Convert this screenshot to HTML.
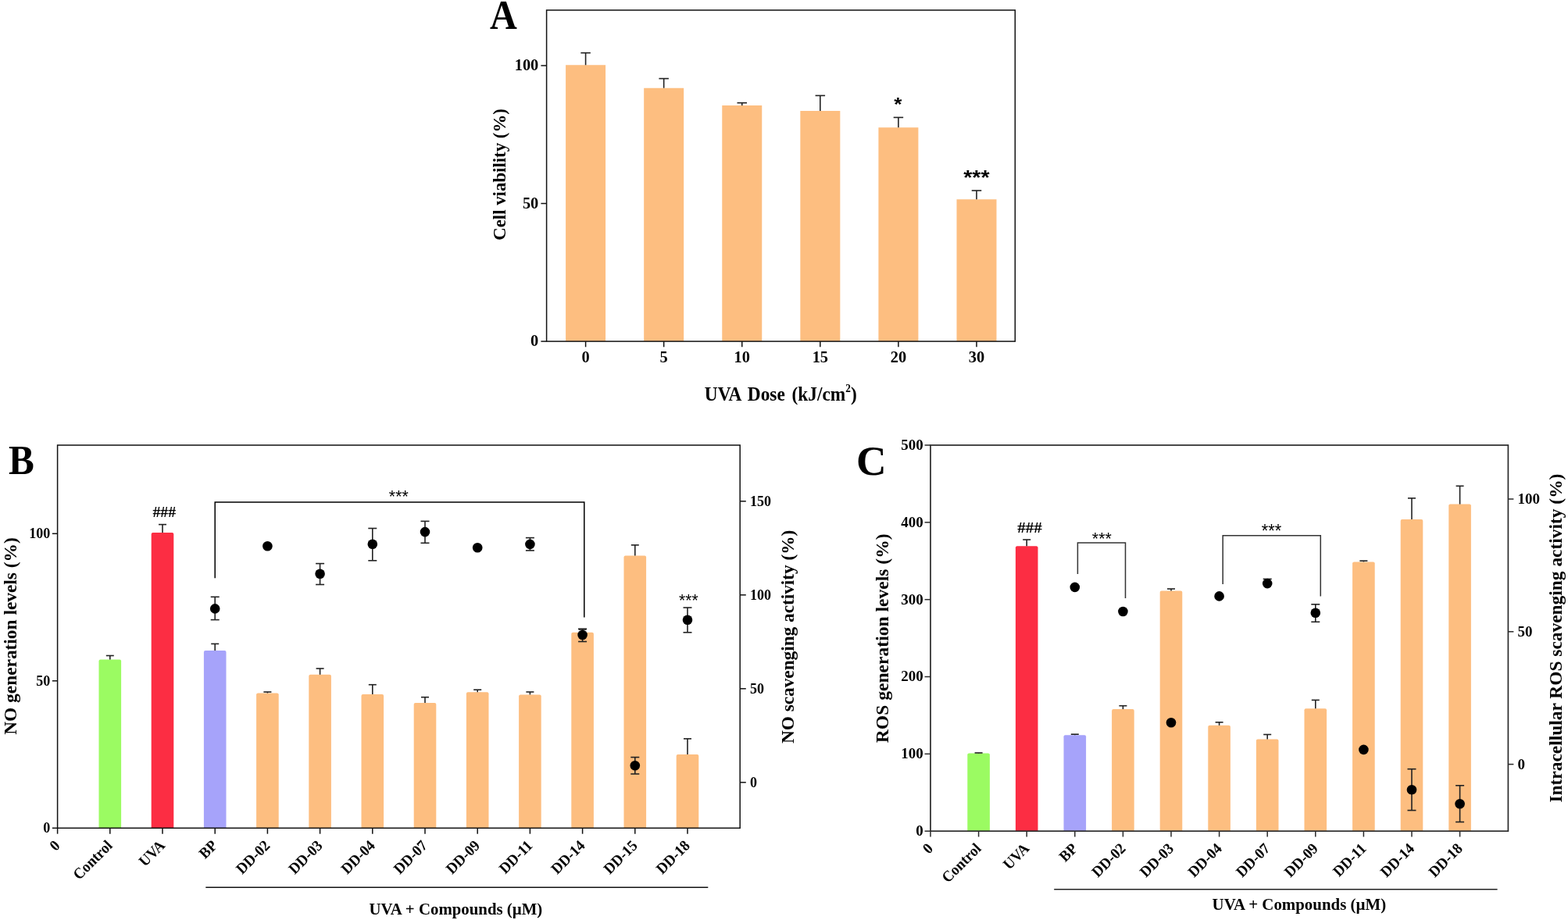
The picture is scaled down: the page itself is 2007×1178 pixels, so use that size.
<!DOCTYPE html>
<html><head><meta charset="utf-8"><title>Figure</title>
<style>
html,body{margin:0;padding:0;background:#fff;}
svg{display:block;}
text{fill:#000;}
</style></head>
<body>
<svg width="2007" height="1178" viewBox="0 0 2007 1178">
<rect x="0" y="0" width="2007" height="1178" fill="#fff"/>
<path d="M724.10 437.10V83.30Q724.10 83.30 724.10 83.30H775.10Q775.10 83.30 775.10 83.30V437.10Z" fill="#FDBE80"/>
<line x1="749.60" y1="83.30" x2="749.60" y2="67.70" stroke="#222" stroke-width="1.6"/>
<line x1="743.35" y1="67.70" x2="755.85" y2="67.70" stroke="#222" stroke-width="1.6"/>
<path d="M824.18 437.10V112.70Q824.18 112.70 824.18 112.70H875.18Q875.18 112.70 875.18 112.70V437.10Z" fill="#FDBE80"/>
<line x1="849.68" y1="112.70" x2="849.68" y2="100.60" stroke="#222" stroke-width="1.6"/>
<line x1="843.43" y1="100.60" x2="855.93" y2="100.60" stroke="#222" stroke-width="1.6"/>
<path d="M924.26 437.10V135.10Q924.26 135.10 924.26 135.10H975.26Q975.26 135.10 975.26 135.10V437.10Z" fill="#FDBE80"/>
<line x1="949.76" y1="135.10" x2="949.76" y2="131.70" stroke="#222" stroke-width="1.6"/>
<line x1="943.51" y1="131.70" x2="956.01" y2="131.70" stroke="#222" stroke-width="1.6"/>
<path d="M1024.34 437.10V141.90Q1024.34 141.90 1024.34 141.90H1075.34Q1075.34 141.90 1075.34 141.90V437.10Z" fill="#FDBE80"/>
<line x1="1049.84" y1="141.90" x2="1049.84" y2="122.40" stroke="#222" stroke-width="1.6"/>
<line x1="1043.59" y1="122.40" x2="1056.09" y2="122.40" stroke="#222" stroke-width="1.6"/>
<path d="M1124.42 437.10V163.30Q1124.42 163.30 1124.42 163.30H1175.42Q1175.42 163.30 1175.42 163.30V437.10Z" fill="#FDBE80"/>
<line x1="1149.92" y1="163.30" x2="1149.92" y2="150.40" stroke="#222" stroke-width="1.6"/>
<line x1="1143.67" y1="150.40" x2="1156.17" y2="150.40" stroke="#222" stroke-width="1.6"/>
<path d="M1224.50 437.10V255.30Q1224.50 255.30 1224.50 255.30H1275.50Q1275.50 255.30 1275.50 255.30V437.10Z" fill="#FDBE80"/>
<line x1="1250.00" y1="255.30" x2="1250.00" y2="244.00" stroke="#222" stroke-width="1.6"/>
<line x1="1243.75" y1="244.00" x2="1256.25" y2="244.00" stroke="#222" stroke-width="1.6"/>
<rect x="699.6" y="13.0" width="599.70" height="424.10" fill="none" stroke="#111" stroke-width="1.5"/>
<line x1="692.40" y1="437.10" x2="699.60" y2="437.10" stroke="#111" stroke-width="1.5"/>
<line x1="692.40" y1="260.55" x2="699.60" y2="260.55" stroke="#111" stroke-width="1.5"/>
<line x1="692.40" y1="84.00" x2="699.60" y2="84.00" stroke="#111" stroke-width="1.5"/>
<line x1="749.60" y1="437.10" x2="749.60" y2="444.30" stroke="#111" stroke-width="1.5"/>
<line x1="849.68" y1="437.10" x2="849.68" y2="444.30" stroke="#111" stroke-width="1.5"/>
<line x1="949.76" y1="437.10" x2="949.76" y2="444.30" stroke="#111" stroke-width="1.5"/>
<line x1="1049.84" y1="437.10" x2="1049.84" y2="444.30" stroke="#111" stroke-width="1.5"/>
<line x1="1149.92" y1="437.10" x2="1149.92" y2="444.30" stroke="#111" stroke-width="1.5"/>
<line x1="1250.00" y1="437.10" x2="1250.00" y2="444.30" stroke="#111" stroke-width="1.5"/>
<path d="M126.50 1060.30V846.60Q126.50 844.60 128.50 844.60H153.10Q155.10 844.60 155.10 846.60V1060.30Z" fill="#9BFB62"/>
<line x1="140.80" y1="844.60" x2="140.80" y2="839.50" stroke="#222" stroke-width="1.6"/>
<line x1="135.80" y1="839.50" x2="145.80" y2="839.50" stroke="#222" stroke-width="1.6"/>
<path d="M193.70 1060.30V684.00Q193.70 682.00 195.70 682.00H220.30Q222.30 682.00 222.30 684.00V1060.30Z" fill="#FC2D43"/>
<line x1="208.00" y1="682.00" x2="208.00" y2="671.60" stroke="#222" stroke-width="1.6"/>
<line x1="203.00" y1="671.60" x2="213.00" y2="671.60" stroke="#222" stroke-width="1.6"/>
<path d="M260.90 1060.30V835.00Q260.90 833.00 262.90 833.00H287.50Q289.50 833.00 289.50 835.00V1060.30Z" fill="#A6A3FA"/>
<line x1="275.20" y1="833.00" x2="275.20" y2="824.40" stroke="#222" stroke-width="1.6"/>
<line x1="270.20" y1="824.40" x2="280.20" y2="824.40" stroke="#222" stroke-width="1.6"/>
<path d="M328.10 1060.30V889.50Q328.10 887.50 330.10 887.50H354.70Q356.70 887.50 356.70 889.50V1060.30Z" fill="#FDBE80"/>
<line x1="342.40" y1="887.50" x2="342.40" y2="886.00" stroke="#222" stroke-width="1.6"/>
<line x1="337.40" y1="886.00" x2="347.40" y2="886.00" stroke="#222" stroke-width="1.6"/>
<path d="M395.30 1060.30V865.80Q395.30 863.80 397.30 863.80H421.90Q423.90 863.80 423.90 865.80V1060.30Z" fill="#FDBE80"/>
<line x1="409.60" y1="863.80" x2="409.60" y2="856.00" stroke="#222" stroke-width="1.6"/>
<line x1="404.60" y1="856.00" x2="414.60" y2="856.00" stroke="#222" stroke-width="1.6"/>
<path d="M462.50 1060.30V890.90Q462.50 888.90 464.50 888.90H489.10Q491.10 888.90 491.10 890.90V1060.30Z" fill="#FDBE80"/>
<line x1="476.80" y1="888.90" x2="476.80" y2="876.70" stroke="#222" stroke-width="1.6"/>
<line x1="471.80" y1="876.70" x2="481.80" y2="876.70" stroke="#222" stroke-width="1.6"/>
<path d="M529.70 1060.30V902.00Q529.70 900.00 531.70 900.00H556.30Q558.30 900.00 558.30 902.00V1060.30Z" fill="#FDBE80"/>
<line x1="544.00" y1="900.00" x2="544.00" y2="892.70" stroke="#222" stroke-width="1.6"/>
<line x1="539.00" y1="892.70" x2="549.00" y2="892.70" stroke="#222" stroke-width="1.6"/>
<path d="M596.90 1060.30V888.30Q596.90 886.30 598.90 886.30H623.50Q625.50 886.30 625.50 888.30V1060.30Z" fill="#FDBE80"/>
<line x1="611.20" y1="886.30" x2="611.20" y2="883.20" stroke="#222" stroke-width="1.6"/>
<line x1="606.20" y1="883.20" x2="616.20" y2="883.20" stroke="#222" stroke-width="1.6"/>
<path d="M664.10 1060.30V891.40Q664.10 889.40 666.10 889.40H690.70Q692.70 889.40 692.70 891.40V1060.30Z" fill="#FDBE80"/>
<line x1="678.40" y1="889.40" x2="678.40" y2="886.00" stroke="#222" stroke-width="1.6"/>
<line x1="673.40" y1="886.00" x2="683.40" y2="886.00" stroke="#222" stroke-width="1.6"/>
<path d="M731.30 1060.30V811.80Q731.30 809.80 733.30 809.80H757.90Q759.90 809.80 759.90 811.80V1060.30Z" fill="#FDBE80"/>
<line x1="745.60" y1="809.80" x2="745.60" y2="806.00" stroke="#222" stroke-width="1.6"/>
<line x1="740.60" y1="806.00" x2="750.60" y2="806.00" stroke="#222" stroke-width="1.6"/>
<path d="M798.50 1060.30V713.40Q798.50 711.40 800.50 711.40H825.10Q827.10 711.40 827.10 713.40V1060.30Z" fill="#FDBE80"/>
<line x1="812.80" y1="711.40" x2="812.80" y2="697.90" stroke="#222" stroke-width="1.6"/>
<line x1="807.80" y1="697.90" x2="817.80" y2="697.90" stroke="#222" stroke-width="1.6"/>
<path d="M865.70 1060.30V968.10Q865.70 966.10 867.70 966.10H892.30Q894.30 966.10 894.30 968.10V1060.30Z" fill="#FDBE80"/>
<line x1="880.00" y1="966.10" x2="880.00" y2="945.90" stroke="#222" stroke-width="1.6"/>
<line x1="875.00" y1="945.90" x2="885.00" y2="945.90" stroke="#222" stroke-width="1.6"/>
<line x1="275.20" y1="764.30" x2="275.20" y2="793.60" stroke="#222" stroke-width="1.6"/>
<line x1="269.70" y1="764.30" x2="280.70" y2="764.30" stroke="#222" stroke-width="1.6"/>
<line x1="269.70" y1="793.60" x2="280.70" y2="793.60" stroke="#222" stroke-width="1.6"/>
<circle cx="275.20" cy="779.40" r="6.3" fill="#000"/>
<circle cx="342.40" cy="699.30" r="6.3" fill="#000"/>
<line x1="409.60" y1="721.60" x2="409.60" y2="748.50" stroke="#222" stroke-width="1.6"/>
<line x1="404.10" y1="721.60" x2="415.10" y2="721.60" stroke="#222" stroke-width="1.6"/>
<line x1="404.10" y1="748.50" x2="415.10" y2="748.50" stroke="#222" stroke-width="1.6"/>
<circle cx="409.60" cy="734.80" r="6.3" fill="#000"/>
<line x1="476.80" y1="676.50" x2="476.80" y2="717.80" stroke="#222" stroke-width="1.6"/>
<line x1="471.30" y1="676.50" x2="482.30" y2="676.50" stroke="#222" stroke-width="1.6"/>
<line x1="471.30" y1="717.80" x2="482.30" y2="717.80" stroke="#222" stroke-width="1.6"/>
<circle cx="476.80" cy="696.70" r="6.3" fill="#000"/>
<line x1="544.00" y1="667.40" x2="544.00" y2="695.30" stroke="#222" stroke-width="1.6"/>
<line x1="538.50" y1="667.40" x2="549.50" y2="667.40" stroke="#222" stroke-width="1.6"/>
<line x1="538.50" y1="695.30" x2="549.50" y2="695.30" stroke="#222" stroke-width="1.6"/>
<circle cx="544.00" cy="681.10" r="6.3" fill="#000"/>
<circle cx="611.20" cy="701.30" r="6.3" fill="#000"/>
<line x1="678.40" y1="688.60" x2="678.40" y2="704.90" stroke="#222" stroke-width="1.6"/>
<line x1="672.90" y1="688.60" x2="683.90" y2="688.60" stroke="#222" stroke-width="1.6"/>
<line x1="672.90" y1="704.90" x2="683.90" y2="704.90" stroke="#222" stroke-width="1.6"/>
<circle cx="678.40" cy="696.90" r="6.3" fill="#000"/>
<line x1="745.60" y1="805.20" x2="745.60" y2="821.50" stroke="#222" stroke-width="1.6"/>
<line x1="740.10" y1="805.20" x2="751.10" y2="805.20" stroke="#222" stroke-width="1.6"/>
<line x1="740.10" y1="821.50" x2="751.10" y2="821.50" stroke="#222" stroke-width="1.6"/>
<circle cx="745.60" cy="813.00" r="6.3" fill="#000"/>
<line x1="812.80" y1="969.60" x2="812.80" y2="991.00" stroke="#222" stroke-width="1.6"/>
<line x1="807.30" y1="969.60" x2="818.30" y2="969.60" stroke="#222" stroke-width="1.6"/>
<line x1="807.30" y1="991.00" x2="818.30" y2="991.00" stroke="#222" stroke-width="1.6"/>
<circle cx="812.80" cy="980.30" r="6.3" fill="#000"/>
<line x1="880.00" y1="778.00" x2="880.00" y2="809.80" stroke="#222" stroke-width="1.6"/>
<line x1="874.50" y1="778.00" x2="885.50" y2="778.00" stroke="#222" stroke-width="1.6"/>
<line x1="874.50" y1="809.80" x2="885.50" y2="809.80" stroke="#222" stroke-width="1.6"/>
<circle cx="880.00" cy="793.80" r="6.3" fill="#000"/>
<polyline points="275.20,740.2 275.20,642.9 747.8,642.9 747.8,790.4" fill="none" stroke="#000" stroke-width="1.5"/>
<rect x="73.6" y="570.0" width="873.60" height="490.30" fill="none" stroke="#111" stroke-width="1.5"/>
<line x1="66.90" y1="1060.30" x2="73.60" y2="1060.30" stroke="#111" stroke-width="1.5"/>
<line x1="66.90" y1="871.80" x2="73.60" y2="871.80" stroke="#111" stroke-width="1.5"/>
<line x1="66.90" y1="683.30" x2="73.60" y2="683.30" stroke="#111" stroke-width="1.5"/>
<line x1="947.20" y1="1001.80" x2="954.80" y2="1001.80" stroke="#111" stroke-width="1.5"/>
<line x1="947.20" y1="881.80" x2="954.80" y2="881.80" stroke="#111" stroke-width="1.5"/>
<line x1="947.20" y1="761.80" x2="954.80" y2="761.80" stroke="#111" stroke-width="1.5"/>
<line x1="947.20" y1="641.80" x2="954.80" y2="641.80" stroke="#111" stroke-width="1.5"/>
<line x1="73.60" y1="1060.30" x2="73.60" y2="1067.70" stroke="#111" stroke-width="1.5"/>
<line x1="140.80" y1="1060.30" x2="140.80" y2="1067.70" stroke="#111" stroke-width="1.5"/>
<line x1="208.00" y1="1060.30" x2="208.00" y2="1067.70" stroke="#111" stroke-width="1.5"/>
<line x1="275.20" y1="1060.30" x2="275.20" y2="1067.70" stroke="#111" stroke-width="1.5"/>
<line x1="342.40" y1="1060.30" x2="342.40" y2="1067.70" stroke="#111" stroke-width="1.5"/>
<line x1="409.60" y1="1060.30" x2="409.60" y2="1067.70" stroke="#111" stroke-width="1.5"/>
<line x1="476.80" y1="1060.30" x2="476.80" y2="1067.70" stroke="#111" stroke-width="1.5"/>
<line x1="544.00" y1="1060.30" x2="544.00" y2="1067.70" stroke="#111" stroke-width="1.5"/>
<line x1="611.20" y1="1060.30" x2="611.20" y2="1067.70" stroke="#111" stroke-width="1.5"/>
<line x1="678.40" y1="1060.30" x2="678.40" y2="1067.70" stroke="#111" stroke-width="1.5"/>
<line x1="745.60" y1="1060.30" x2="745.60" y2="1067.70" stroke="#111" stroke-width="1.5"/>
<line x1="812.80" y1="1060.30" x2="812.80" y2="1067.70" stroke="#111" stroke-width="1.5"/>
<line x1="880.00" y1="1060.30" x2="880.00" y2="1067.70" stroke="#111" stroke-width="1.5"/>
<line x1="263.30" y1="1136.20" x2="906.30" y2="1136.20" stroke="#111" stroke-width="1.5"/>
<path d="M1238.30 1064.20V966.50Q1238.30 964.50 1240.30 964.50H1264.90Q1266.90 964.50 1266.90 966.50V1064.20Z" fill="#9BFB62"/>
<line x1="1252.60" y1="964.50" x2="1252.60" y2="964.00" stroke="#222" stroke-width="1.6"/>
<line x1="1247.60" y1="964.00" x2="1257.60" y2="964.00" stroke="#222" stroke-width="1.6"/>
<path d="M1299.90 1064.20V701.30Q1299.90 699.30 1301.90 699.30H1326.50Q1328.50 699.30 1328.50 701.30V1064.20Z" fill="#FC2D43"/>
<line x1="1314.20" y1="699.30" x2="1314.20" y2="691.00" stroke="#222" stroke-width="1.6"/>
<line x1="1309.20" y1="691.00" x2="1319.20" y2="691.00" stroke="#222" stroke-width="1.6"/>
<path d="M1361.50 1064.20V943.30Q1361.50 941.30 1363.50 941.30H1388.10Q1390.10 941.30 1390.10 943.30V1064.20Z" fill="#A6A3FA"/>
<line x1="1375.80" y1="941.30" x2="1375.80" y2="940.20" stroke="#222" stroke-width="1.6"/>
<line x1="1370.80" y1="940.20" x2="1380.80" y2="940.20" stroke="#222" stroke-width="1.6"/>
<path d="M1423.10 1064.20V910.00Q1423.10 908.00 1425.10 908.00H1449.70Q1451.70 908.00 1451.70 910.00V1064.20Z" fill="#FDBE80"/>
<line x1="1437.40" y1="908.00" x2="1437.40" y2="903.70" stroke="#222" stroke-width="1.6"/>
<line x1="1432.40" y1="903.70" x2="1442.40" y2="903.70" stroke="#222" stroke-width="1.6"/>
<path d="M1484.70 1064.20V758.60Q1484.70 756.60 1486.70 756.60H1511.30Q1513.30 756.60 1513.30 758.60V1064.20Z" fill="#FDBE80"/>
<line x1="1499.00" y1="756.60" x2="1499.00" y2="754.00" stroke="#222" stroke-width="1.6"/>
<line x1="1494.00" y1="754.00" x2="1504.00" y2="754.00" stroke="#222" stroke-width="1.6"/>
<path d="M1546.30 1064.20V930.80Q1546.30 928.80 1548.30 928.80H1572.90Q1574.90 928.80 1574.90 930.80V1064.20Z" fill="#FDBE80"/>
<line x1="1560.60" y1="928.80" x2="1560.60" y2="924.80" stroke="#222" stroke-width="1.6"/>
<line x1="1555.60" y1="924.80" x2="1565.60" y2="924.80" stroke="#222" stroke-width="1.6"/>
<path d="M1607.90 1064.20V948.40Q1607.90 946.40 1609.90 946.40H1634.50Q1636.50 946.40 1636.50 948.40V1064.20Z" fill="#FDBE80"/>
<line x1="1622.20" y1="946.40" x2="1622.20" y2="940.50" stroke="#222" stroke-width="1.6"/>
<line x1="1617.20" y1="940.50" x2="1627.20" y2="940.50" stroke="#222" stroke-width="1.6"/>
<path d="M1669.50 1064.20V909.20Q1669.50 907.20 1671.50 907.20H1696.10Q1698.10 907.20 1698.10 909.20V1064.20Z" fill="#FDBE80"/>
<line x1="1683.80" y1="907.20" x2="1683.80" y2="896.40" stroke="#222" stroke-width="1.6"/>
<line x1="1678.80" y1="896.40" x2="1688.80" y2="896.40" stroke="#222" stroke-width="1.6"/>
<path d="M1731.10 1064.20V721.40Q1731.10 719.40 1733.10 719.40H1757.70Q1759.70 719.40 1759.70 721.40V1064.20Z" fill="#FDBE80"/>
<line x1="1745.40" y1="719.40" x2="1745.40" y2="718.10" stroke="#222" stroke-width="1.6"/>
<line x1="1740.40" y1="718.10" x2="1750.40" y2="718.10" stroke="#222" stroke-width="1.6"/>
<path d="M1792.70 1064.20V667.00Q1792.70 665.00 1794.70 665.00H1819.30Q1821.30 665.00 1821.30 667.00V1064.20Z" fill="#FDBE80"/>
<line x1="1807.00" y1="665.00" x2="1807.00" y2="637.90" stroke="#222" stroke-width="1.6"/>
<line x1="1802.00" y1="637.90" x2="1812.00" y2="637.90" stroke="#222" stroke-width="1.6"/>
<path d="M1854.30 1064.20V647.60Q1854.30 645.60 1856.30 645.60H1880.90Q1882.90 645.60 1882.90 647.60V1064.20Z" fill="#FDBE80"/>
<line x1="1868.60" y1="645.60" x2="1868.60" y2="622.30" stroke="#222" stroke-width="1.6"/>
<line x1="1863.60" y1="622.30" x2="1873.60" y2="622.30" stroke="#222" stroke-width="1.6"/>
<circle cx="1375.80" cy="751.90" r="6.3" fill="#000"/>
<circle cx="1437.40" cy="783.00" r="6.3" fill="#000"/>
<circle cx="1499.00" cy="925.30" r="6.3" fill="#000"/>
<circle cx="1560.60" cy="763.40" r="6.3" fill="#000"/>
<line x1="1622.20" y1="741.40" x2="1622.20" y2="747.10" stroke="#222" stroke-width="1.6"/>
<line x1="1616.70" y1="741.40" x2="1627.70" y2="741.40" stroke="#222" stroke-width="1.6"/>
<circle cx="1622.20" cy="747.10" r="6.3" fill="#000"/>
<line x1="1683.80" y1="773.80" x2="1683.80" y2="796.30" stroke="#222" stroke-width="1.6"/>
<line x1="1678.30" y1="773.80" x2="1689.30" y2="773.80" stroke="#222" stroke-width="1.6"/>
<line x1="1678.30" y1="796.30" x2="1689.30" y2="796.30" stroke="#222" stroke-width="1.6"/>
<circle cx="1683.80" cy="784.70" r="6.3" fill="#000"/>
<circle cx="1745.40" cy="959.90" r="6.3" fill="#000"/>
<line x1="1807.00" y1="984.70" x2="1807.00" y2="1037.60" stroke="#222" stroke-width="1.6"/>
<line x1="1801.50" y1="984.70" x2="1812.50" y2="984.70" stroke="#222" stroke-width="1.6"/>
<line x1="1801.50" y1="1037.60" x2="1812.50" y2="1037.60" stroke="#222" stroke-width="1.6"/>
<circle cx="1807.00" cy="1011.20" r="6.3" fill="#000"/>
<line x1="1868.60" y1="1005.80" x2="1868.60" y2="1052.50" stroke="#222" stroke-width="1.6"/>
<line x1="1863.10" y1="1005.80" x2="1874.10" y2="1005.80" stroke="#222" stroke-width="1.6"/>
<line x1="1863.10" y1="1052.50" x2="1874.10" y2="1052.50" stroke="#222" stroke-width="1.6"/>
<circle cx="1868.60" cy="1029.30" r="6.3" fill="#000"/>
<polyline points="1379.4,735 1379.4,694.9 1440.5,694.9 1440.5,766.1" fill="none" stroke="#333" stroke-width="1.5"/>
<polyline points="1565.2,748 1565.2,685.8 1690.3,685.8 1690.3,763.4" fill="none" stroke="#333" stroke-width="1.5"/>
<rect x="1191.0" y="570.0" width="739.40" height="494.20" fill="none" stroke="#2a2a2a" stroke-width="1.7"/>
<line x1="1183.60" y1="1064.20" x2="1191.00" y2="1064.20" stroke="#2a2a2a" stroke-width="1.5"/>
<line x1="1183.60" y1="965.36" x2="1191.00" y2="965.36" stroke="#2a2a2a" stroke-width="1.5"/>
<line x1="1183.60" y1="866.52" x2="1191.00" y2="866.52" stroke="#2a2a2a" stroke-width="1.5"/>
<line x1="1183.60" y1="767.68" x2="1191.00" y2="767.68" stroke="#2a2a2a" stroke-width="1.5"/>
<line x1="1183.60" y1="668.84" x2="1191.00" y2="668.84" stroke="#2a2a2a" stroke-width="1.5"/>
<line x1="1183.60" y1="570.00" x2="1191.00" y2="570.00" stroke="#2a2a2a" stroke-width="1.5"/>
<line x1="1930.40" y1="978.60" x2="1937.40" y2="978.60" stroke="#2a2a2a" stroke-width="1.5"/>
<line x1="1930.40" y1="808.80" x2="1937.40" y2="808.80" stroke="#2a2a2a" stroke-width="1.5"/>
<line x1="1930.40" y1="639.00" x2="1937.40" y2="639.00" stroke="#2a2a2a" stroke-width="1.5"/>
<line x1="1191.00" y1="1064.20" x2="1191.00" y2="1071.50" stroke="#2a2a2a" stroke-width="1.5"/>
<line x1="1252.60" y1="1064.20" x2="1252.60" y2="1071.50" stroke="#2a2a2a" stroke-width="1.5"/>
<line x1="1314.20" y1="1064.20" x2="1314.20" y2="1071.50" stroke="#2a2a2a" stroke-width="1.5"/>
<line x1="1375.80" y1="1064.20" x2="1375.80" y2="1071.50" stroke="#2a2a2a" stroke-width="1.5"/>
<line x1="1437.40" y1="1064.20" x2="1437.40" y2="1071.50" stroke="#2a2a2a" stroke-width="1.5"/>
<line x1="1499.00" y1="1064.20" x2="1499.00" y2="1071.50" stroke="#2a2a2a" stroke-width="1.5"/>
<line x1="1560.60" y1="1064.20" x2="1560.60" y2="1071.50" stroke="#2a2a2a" stroke-width="1.5"/>
<line x1="1622.20" y1="1064.20" x2="1622.20" y2="1071.50" stroke="#2a2a2a" stroke-width="1.5"/>
<line x1="1683.80" y1="1064.20" x2="1683.80" y2="1071.50" stroke="#2a2a2a" stroke-width="1.5"/>
<line x1="1745.40" y1="1064.20" x2="1745.40" y2="1071.50" stroke="#2a2a2a" stroke-width="1.5"/>
<line x1="1807.00" y1="1064.20" x2="1807.00" y2="1071.50" stroke="#2a2a2a" stroke-width="1.5"/>
<line x1="1868.60" y1="1064.20" x2="1868.60" y2="1071.50" stroke="#2a2a2a" stroke-width="1.5"/>
<line x1="1349.20" y1="1138.80" x2="1916.60" y2="1138.80" stroke="#222" stroke-width="1.5"/>
<text transform="translate(1144.30 141.70) scale(1.087 1)" font-family="'Liberation Sans', Arial, sans-serif" font-weight="bold" font-size="24.05">*</text>
<text transform="translate(1233.20 236.34) scale(1.135 1)" font-family="'Liberation Sans', Arial, sans-serif" font-weight="bold" font-size="25.14">***</text>
<text transform="translate(627.12 37.20) scale(0.903 1)" font-family="'Liberation Serif', 'Times New Roman', serif" font-weight="bold" font-size="53.33">A</text>
<text transform="translate(901.83 512.70) scale(0.954 1)" font-family="'Liberation Serif', 'Times New Roman', serif" font-weight="bold" font-size="24.50" style="word-spacing:0.12em">UVA Dose (kJ/cm<tspan font-size="13.96" dy="-11.03">2</tspan><tspan dy="11.03">)</tspan></text>
<text transform="translate(647.30 307.84) rotate(-90) scale(0.952 1)" font-family="'Liberation Serif', 'Times New Roman', serif" font-weight="bold" font-size="24.00">Cell viability (%)</text>
<text transform="translate(497.87 643.38) scale(0.957 1)" font-family="'Liberation Sans', Arial, sans-serif" font-weight="normal" font-size="22.29">***</text>
<text transform="translate(195.40 661.52) scale(1.080 1)" font-family="'Liberation Serif', 'Times New Roman', serif" font-weight="bold" font-size="18.33">###</text>
<text transform="translate(869.08 775.98) scale(0.949 1)" font-family="'Liberation Sans', Arial, sans-serif" font-weight="normal" font-size="22.29">***</text>
<text transform="translate(472.38 1170.60) scale(0.992 1)" font-family="'Liberation Serif', 'Times New Roman', serif" font-weight="bold" font-size="21.00">UVA + Compounds (µM)</text>
<text transform="translate(11.02 607.10) scale(0.938 1)" font-family="'Liberation Serif', 'Times New Roman', serif" font-weight="bold" font-size="52.46">B</text>
<text transform="translate(20.90 940.87) rotate(-90) scale(0.975 1)" font-family="'Liberation Serif', 'Times New Roman', serif" font-weight="bold" font-size="24.00">NO generation levels (%)</text>
<text transform="translate(1015.60 951.97) rotate(-90) scale(0.969 1)" font-family="'Liberation Serif', 'Times New Roman', serif" font-weight="bold" font-size="24.00">NO scavenging activity (%)</text>
<text transform="translate(1397.87 697.18) scale(0.969 1)" font-family="'Liberation Sans', Arial, sans-serif" font-weight="normal" font-size="22.00">***</text>
<text transform="translate(1614.76 687.86) scale(0.918 1)" font-family="'Liberation Sans', Arial, sans-serif" font-weight="normal" font-size="23.71">***</text>
<text transform="translate(1302.19 681.80) scale(1.067 1)" font-family="'Liberation Serif', 'Times New Roman', serif" font-weight="bold" font-size="19.70">###</text>
<text transform="translate(1551.58 1164.80) scale(0.995 1)" font-family="'Liberation Serif', 'Times New Roman', serif" font-weight="bold" font-size="21.00">UVA + Compounds (µM)</text>
<text transform="translate(1096.03 607.57) scale(1.007 1)" font-family="'Liberation Serif', 'Times New Roman', serif" font-weight="bold" font-size="53.13">C</text>
<text transform="translate(1137.00 951.17) rotate(-90) scale(0.983 1)" font-family="'Liberation Serif', 'Times New Roman', serif" font-weight="bold" font-size="24.00">ROS generation levels (%)</text>
<text transform="translate(1998.90 1027.60) rotate(-90) scale(0.976 1)" font-family="'Liberation Serif', 'Times New Roman', serif" font-weight="bold" font-size="24.00">Intracellular ROS scavenging activity (%)</text>
<text transform="translate(689.30 443.30)" font-family="'Liberation Serif', 'Times New Roman', serif" font-weight="bold" font-size="20.4" text-anchor="end">0</text>
<text transform="translate(689.30 266.75)" font-family="'Liberation Serif', 'Times New Roman', serif" font-weight="bold" font-size="20.4" text-anchor="end">50</text>
<text transform="translate(689.30 90.20)" font-family="'Liberation Serif', 'Times New Roman', serif" font-weight="bold" font-size="20.4" text-anchor="end">100</text>
<text transform="translate(749.60 464.30)" font-family="'Liberation Serif', 'Times New Roman', serif" font-weight="bold" font-size="20.4" text-anchor="middle">0</text>
<text transform="translate(849.68 464.30)" font-family="'Liberation Serif', 'Times New Roman', serif" font-weight="bold" font-size="20.4" text-anchor="middle">5</text>
<text transform="translate(949.76 464.30)" font-family="'Liberation Serif', 'Times New Roman', serif" font-weight="bold" font-size="20.4" text-anchor="middle">10</text>
<text transform="translate(1049.84 464.30)" font-family="'Liberation Serif', 'Times New Roman', serif" font-weight="bold" font-size="20.4" text-anchor="middle">15</text>
<text transform="translate(1149.92 464.30)" font-family="'Liberation Serif', 'Times New Roman', serif" font-weight="bold" font-size="20.4" text-anchor="middle">20</text>
<text transform="translate(1250.00 464.30)" font-family="'Liberation Serif', 'Times New Roman', serif" font-weight="bold" font-size="20.4" text-anchor="middle">30</text>
<text transform="translate(64.20 1066.40) scale(0.960 1)" font-family="'Liberation Serif', 'Times New Roman', serif" font-weight="bold" font-size="18.8" text-anchor="end">0</text>
<text transform="translate(64.20 877.90) scale(0.960 1)" font-family="'Liberation Serif', 'Times New Roman', serif" font-weight="bold" font-size="18.8" text-anchor="end">50</text>
<text transform="translate(64.20 689.40) scale(0.960 1)" font-family="'Liberation Serif', 'Times New Roman', serif" font-weight="bold" font-size="18.8" text-anchor="end">100</text>
<text transform="translate(960.00 1007.80) scale(0.960 1)" font-family="'Liberation Serif', 'Times New Roman', serif" font-weight="bold" font-size="18.8" text-anchor="start">0</text>
<text transform="translate(960.00 887.80) scale(0.960 1)" font-family="'Liberation Serif', 'Times New Roman', serif" font-weight="bold" font-size="18.8" text-anchor="start">50</text>
<text transform="translate(960.00 767.80) scale(0.960 1)" font-family="'Liberation Serif', 'Times New Roman', serif" font-weight="bold" font-size="18.8" text-anchor="start">100</text>
<text transform="translate(960.00 647.80) scale(0.960 1)" font-family="'Liberation Serif', 'Times New Roman', serif" font-weight="bold" font-size="18.8" text-anchor="start">150</text>
<text transform="translate(77.80 1083.80) rotate(-45) scale(0.950 1)" font-family="'Liberation Serif', 'Times New Roman', serif" font-weight="bold" font-size="19.6" text-anchor="end">0</text>
<text transform="translate(145.00 1083.80) rotate(-45) scale(0.950 1)" font-family="'Liberation Serif', 'Times New Roman', serif" font-weight="bold" font-size="19.6" text-anchor="end">Control</text>
<text transform="translate(212.20 1083.80) rotate(-45) scale(0.950 1)" font-family="'Liberation Serif', 'Times New Roman', serif" font-weight="bold" font-size="19.6" text-anchor="end">UVA</text>
<text transform="translate(279.40 1083.80) rotate(-45) scale(0.950 1)" font-family="'Liberation Serif', 'Times New Roman', serif" font-weight="bold" font-size="19.6" text-anchor="end">BP</text>
<text transform="translate(346.60 1083.80) rotate(-45) scale(0.950 1)" font-family="'Liberation Serif', 'Times New Roman', serif" font-weight="bold" font-size="19.6" text-anchor="end">DD-02</text>
<text transform="translate(413.80 1083.80) rotate(-45) scale(0.950 1)" font-family="'Liberation Serif', 'Times New Roman', serif" font-weight="bold" font-size="19.6" text-anchor="end">DD-03</text>
<text transform="translate(481.00 1083.80) rotate(-45) scale(0.950 1)" font-family="'Liberation Serif', 'Times New Roman', serif" font-weight="bold" font-size="19.6" text-anchor="end">DD-04</text>
<text transform="translate(548.20 1083.80) rotate(-45) scale(0.950 1)" font-family="'Liberation Serif', 'Times New Roman', serif" font-weight="bold" font-size="19.6" text-anchor="end">DD-07</text>
<text transform="translate(615.40 1083.80) rotate(-45) scale(0.950 1)" font-family="'Liberation Serif', 'Times New Roman', serif" font-weight="bold" font-size="19.6" text-anchor="end">DD-09</text>
<text transform="translate(682.60 1083.80) rotate(-45) scale(0.950 1)" font-family="'Liberation Serif', 'Times New Roman', serif" font-weight="bold" font-size="19.6" text-anchor="end">DD-11</text>
<text transform="translate(749.80 1083.80) rotate(-45) scale(0.950 1)" font-family="'Liberation Serif', 'Times New Roman', serif" font-weight="bold" font-size="19.6" text-anchor="end">DD-14</text>
<text transform="translate(817.00 1083.80) rotate(-45) scale(0.950 1)" font-family="'Liberation Serif', 'Times New Roman', serif" font-weight="bold" font-size="19.6" text-anchor="end">DD-15</text>
<text transform="translate(884.20 1083.80) rotate(-45) scale(0.950 1)" font-family="'Liberation Serif', 'Times New Roman', serif" font-weight="bold" font-size="19.6" text-anchor="end">DD-18</text>
<text transform="translate(1181.70 1070.10)" font-family="'Liberation Serif', 'Times New Roman', serif" font-weight="bold" font-size="19.0" text-anchor="end">0</text>
<text transform="translate(1181.70 971.26)" font-family="'Liberation Serif', 'Times New Roman', serif" font-weight="bold" font-size="19.0" text-anchor="end">100</text>
<text transform="translate(1181.70 872.42)" font-family="'Liberation Serif', 'Times New Roman', serif" font-weight="bold" font-size="19.0" text-anchor="end">200</text>
<text transform="translate(1181.70 773.58)" font-family="'Liberation Serif', 'Times New Roman', serif" font-weight="bold" font-size="19.0" text-anchor="end">300</text>
<text transform="translate(1181.70 674.74)" font-family="'Liberation Serif', 'Times New Roman', serif" font-weight="bold" font-size="19.0" text-anchor="end">400</text>
<text transform="translate(1181.70 575.90)" font-family="'Liberation Serif', 'Times New Roman', serif" font-weight="bold" font-size="19.0" text-anchor="end">500</text>
<text transform="translate(1942.60 984.60)" font-family="'Liberation Serif', 'Times New Roman', serif" font-weight="bold" font-size="19.0" text-anchor="start">0</text>
<text transform="translate(1942.60 814.80)" font-family="'Liberation Serif', 'Times New Roman', serif" font-weight="bold" font-size="19.0" text-anchor="start">50</text>
<text transform="translate(1942.60 645.00)" font-family="'Liberation Serif', 'Times New Roman', serif" font-weight="bold" font-size="19.0" text-anchor="start">100</text>
<text transform="translate(1195.40 1087.60) rotate(-45) scale(0.950 1)" font-family="'Liberation Serif', 'Times New Roman', serif" font-weight="bold" font-size="19.6" text-anchor="end">0</text>
<text transform="translate(1257.00 1087.60) rotate(-45) scale(0.950 1)" font-family="'Liberation Serif', 'Times New Roman', serif" font-weight="bold" font-size="19.6" text-anchor="end">Control</text>
<text transform="translate(1318.60 1087.60) rotate(-45) scale(0.950 1)" font-family="'Liberation Serif', 'Times New Roman', serif" font-weight="bold" font-size="19.6" text-anchor="end">UVA</text>
<text transform="translate(1380.20 1087.60) rotate(-45) scale(0.950 1)" font-family="'Liberation Serif', 'Times New Roman', serif" font-weight="bold" font-size="19.6" text-anchor="end">BP</text>
<text transform="translate(1441.80 1087.60) rotate(-45) scale(0.950 1)" font-family="'Liberation Serif', 'Times New Roman', serif" font-weight="bold" font-size="19.6" text-anchor="end">DD-02</text>
<text transform="translate(1503.40 1087.60) rotate(-45) scale(0.950 1)" font-family="'Liberation Serif', 'Times New Roman', serif" font-weight="bold" font-size="19.6" text-anchor="end">DD-03</text>
<text transform="translate(1565.00 1087.60) rotate(-45) scale(0.950 1)" font-family="'Liberation Serif', 'Times New Roman', serif" font-weight="bold" font-size="19.6" text-anchor="end">DD-04</text>
<text transform="translate(1626.60 1087.60) rotate(-45) scale(0.950 1)" font-family="'Liberation Serif', 'Times New Roman', serif" font-weight="bold" font-size="19.6" text-anchor="end">DD-07</text>
<text transform="translate(1688.20 1087.60) rotate(-45) scale(0.950 1)" font-family="'Liberation Serif', 'Times New Roman', serif" font-weight="bold" font-size="19.6" text-anchor="end">DD-09</text>
<text transform="translate(1749.80 1087.60) rotate(-45) scale(0.950 1)" font-family="'Liberation Serif', 'Times New Roman', serif" font-weight="bold" font-size="19.6" text-anchor="end">DD-11</text>
<text transform="translate(1811.40 1087.60) rotate(-45) scale(0.950 1)" font-family="'Liberation Serif', 'Times New Roman', serif" font-weight="bold" font-size="19.6" text-anchor="end">DD-14</text>
<text transform="translate(1873.00 1087.60) rotate(-45) scale(0.950 1)" font-family="'Liberation Serif', 'Times New Roman', serif" font-weight="bold" font-size="19.6" text-anchor="end">DD-18</text>
</svg>
</body></html>
